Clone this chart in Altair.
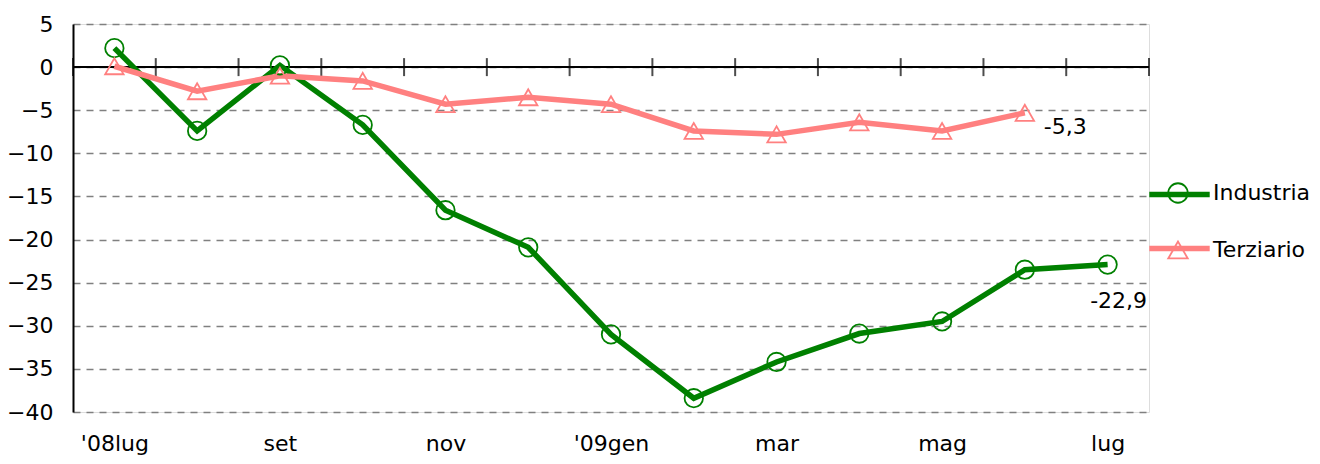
import json
import altair as alt
import pandas as pd

months = ["'08lug", "ago", "set", "ott", "nov", "dic", "'09gen", "feb", "mar", "apr", "mag", "giu", "lug"]
industria = [2.2, -7.4, 0.2, -6.7, -16.6, -20.9, -31.0, -38.4, -34.2, -30.9, -29.5, -23.5, -22.9]
terziario = [0.1, -2.8, -1.0, -1.6, -4.3, -3.5, -4.3, -7.4, -7.8, -6.4, -7.4, -5.3]
series = ["Industria", "Terziario"]
colors = ["#008000", "#FF8080"]
shapes = ["circle", "triangle-up"]
y_ticks = [5, 0, -5, -10, -15, -20, -25, -30, -35, -40]
label_months = [0, 2, 4, 6, 8, 10, 12]

FONT = "DejaVu Sans"
FS = 22

rows = []
for i, v in enumerate(industria):
    rows.append({"i": i, "v": v, "Serie": series[0], "Serie2": series[0]})
for i, v in enumerate(terziario):
    rows.append({"i": i, "v": v, "Serie": series[1], "Serie2": series[1]})
df = pd.DataFrame(rows)

bounds = pd.DataFrame({"b": [k - 0.5 for k in range(len(months) + 1)]})

last = pd.DataFrame([
    {"i": len(industria) - 1, "v": industria[-1], "t": f"{industria[-1]:.1f}".replace(".", ","), "Serie": series[0]},
    {"i": len(terziario) - 1, "v": terziario[-1], "t": f"{terziario[-1]:.1f}".replace(".", ","), "Serie": series[1]},
])

label_expr = "[" + ",".join(json.dumps(m) for m in months) + "][datum.value]"

xscale = alt.Scale(domain=[-0.5, len(months) - 0.5], nice=False, zero=False)
yscale = alt.Scale(domain=[-40, 5], nice=False, zero=False)

x_enc = alt.X("i:Q", scale=xscale, axis=alt.Axis(
    values=label_months, labelExpr=label_expr, title=None, grid=False, domain=False,
    ticks=False, labelPadding=38, labelBaseline="alphabetic", labelFontSize=FS, labelFont=FONT,
    labelColor="black"))
y_enc = alt.Y("v:Q", scale=yscale, axis=alt.Axis(
    values=y_ticks, title=None, grid=True, gridColor="#808080", gridDash=[7, 6], gridWidth=1.3,
    domainColor="black", domainWidth=2, ticks=False, labelPadding=20, labelFontSize=FS,
    labelFont=FONT, labelColor="black"))

LEG_SIZE = 380
leg_common = dict(orient="none", legendX=1094, legendY=158, title=None, padding=0,
                  labelFontSize=FS, labelFont=FONT, labelColor="black", rowPadding=30,
                  labelOffset=24, symbolSize=LEG_SIZE)

zero_rule = alt.Chart(pd.DataFrame({"z": [0]})).mark_rule(color="black", strokeWidth=2).encode(
    y=alt.Y("z:Q", scale=yscale))

ticks = alt.Chart(bounds).mark_tick(orient="vertical", size=18, thickness=2, color="black").encode(
    x=alt.X("b:Q", scale=xscale), y=alt.datum(0))

lines = alt.Chart(df).mark_line(strokeWidth=5.5).encode(
    x=x_enc, y=y_enc,
    color=alt.Color("Serie:N", scale=alt.Scale(domain=series, range=colors),
                    legend=alt.Legend(symbolType="M-3.1,0L3.1,0", symbolStrokeWidth=5.5,
                                      labelOpacity=0, **leg_common)),
    detail="Serie:N")

pts = alt.Chart(df).mark_point(filled=False, strokeWidth=1.8, size=340, opacity=1).encode(
    x=alt.X("i:Q", scale=xscale), y=alt.Y("v:Q", scale=yscale),
    stroke=alt.Stroke("Serie2:N", scale=alt.Scale(domain=series, range=colors),
                      legend=alt.Legend(symbolStrokeWidth=1.8, symbolFillColor="transparent", **leg_common)),
    shape=alt.Shape("Serie2:N", scale=alt.Scale(domain=series, range=shapes),
                    legend=alt.Legend(symbolStrokeWidth=1.8, symbolFillColor="transparent", **leg_common)))

lab_ind = alt.Chart(last[last.Serie == series[0]]).mark_text(
    fontSize=FS, font=FONT, color="black", align="center", baseline="alphabetic", dx=11, dy=43).encode(
    x=alt.X("i:Q", scale=xscale), y=alt.Y("v:Q", scale=yscale), text="t:N")
lab_ter = alt.Chart(last[last.Serie == series[1]]).mark_text(
    fontSize=FS, font=FONT, color="black", align="left", baseline="alphabetic", dx=19, dy=21).encode(
    x=alt.X("i:Q", scale=xscale), y=alt.Y("v:Q", scale=yscale), text="t:N")

chart = alt.layer(zero_rule, ticks, lines, pts, lab_ind, lab_ter).resolve_scale(
    color="independent").properties(
    width=1076, height=388,
    autosize=alt.AutoSizeParams(type="none"),
    padding={"left": 65, "top": 16, "right": 163, "bottom": 44},
).configure_view(stroke=None).configure(background="white")

chart.save("out.html", embed_options={"renderer": "svg", "actions": False})
